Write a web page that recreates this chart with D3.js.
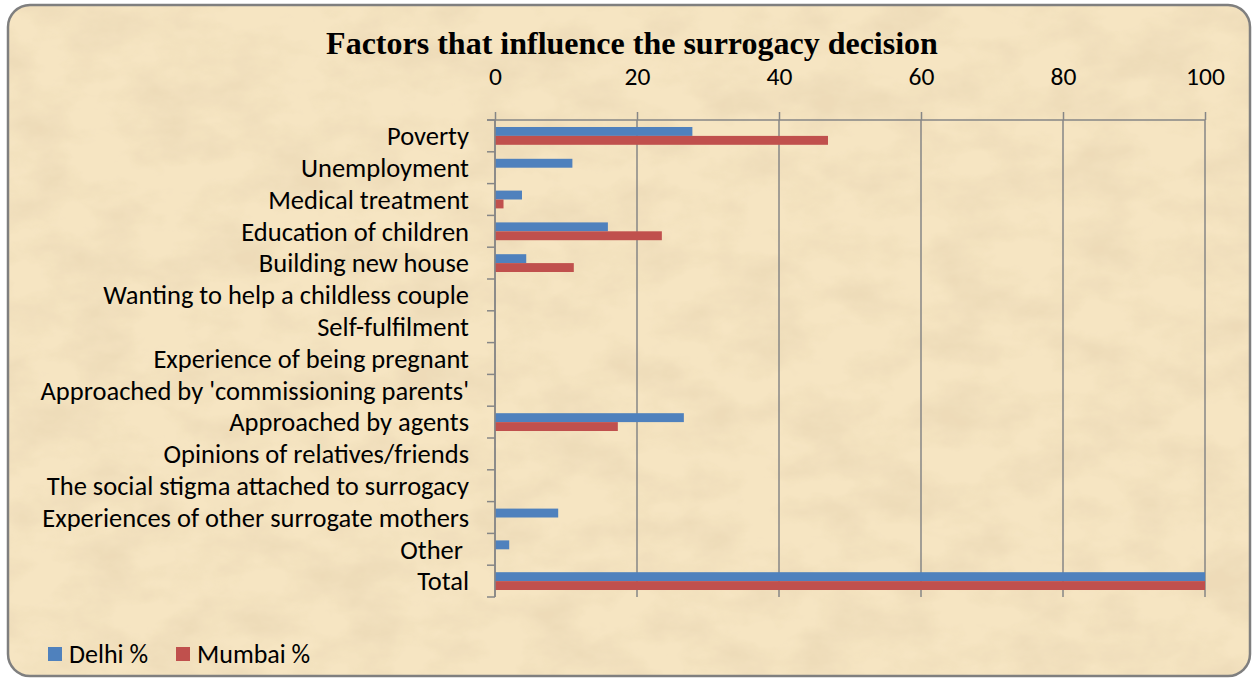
<!DOCTYPE html>
<html>
<head>
<meta charset="utf-8">
<script src="https://cdn.jsdelivr.net/npm/d3@7"></script>
<style>
  body { margin: 0; background: #ffffff; }
  text { font-family: Carlito, "Open Sans", "Noto Sans", sans-serif; }
</style>
</head>
<body>
<div id="chart"></div>
<script>
var width = 1253;
var height = 679;

var categories = ['Poverty', 'Unemployment', 'Medical treatment', 'Education of children',
  'Building new house', 'Wanting to help a childless couple', 'Self-fulfilment',
  'Experience of being pregnant', "Approached by 'commissioning parents'",
  'Approached by agents', 'Opinions of relatives/friends',
  'The social stigma attached to surrogacy', 'Experiences of other surrogate mothers',
  'Other ', 'Total'];
var delhi = [27.8, 10.9, 3.8, 15.9, 4.4, 0, 0, 0, 0, 26.6, 0, 0, 8.9, 2.0, 100];
var mumbai = [46.9, 0, 1.2, 23.5, 11.1, 0, 0, 0, 0, 17.3, 0, 0, 0, 0, 100];
var seriesNames = ['Delhi %', 'Mumbai %'];
var xTicks = [0, 20, 40, 60, 80, 100];
var colors = ['#4f81bd', '#c0504d'];

var margin = {left: 495, right: 48, top: 120, bottom: 82};
var fontSize = '26.5px';

var svg = d3.select('#chart').append('svg')
  .attr('width', width)
  .attr('height', height);

// parchment texture
var defs = svg.append('defs');
var filt = defs.append('filter').attr('id', 'paper')
  .attr('x', 0).attr('y', 0).attr('width', '100%').attr('height', '100%');
filt.append('feTurbulence')
  .attr('type', 'fractalNoise')
  .attr('baseFrequency', '0.015 0.025')
  .attr('numOctaves', 5)
  .attr('seed', 7)
  .attr('result', 'noise');
filt.append('feColorMatrix')
  .attr('in', 'noise')
  .attr('type', 'matrix')
  .attr('values', '0 0 0 0 0.85  0 0 0 0 0.71  0 0 0 0 0.48  0 0 0 2.2 -0.8')
  .attr('result', 'blot');
filt.append('feComposite').attr('in', 'blot').attr('in2', 'SourceGraphic').attr('operator', 'in').attr('result', 'b2');
filt.append('feMerge').selectAll('feMergeNode')
  .data(['SourceGraphic', 'b2'])
  .enter().append('feMergeNode').attr('in', function(d) { return d; });

svg.append('rect')
  .attr('x', 8).attr('y', 5).attr('width', 1242).attr('height', 671)
  .attr('rx', 22).attr('ry', 22)
  .style('fill', '#f6e5c2')
  .attr('filter', 'url(#paper)');

svg.append('rect')
  .attr('x', 8).attr('y', 5).attr('width', 1242).attr('height', 671)
  .attr('rx', 22).attr('ry', 22)
  .style('fill', 'none')
  .style('stroke', '#7f7f7f')
  .style('stroke-width', 2.5);

var x = d3.scaleLinear()
  .domain([0, 100])
  .range([margin.left, width - margin.right]);

var y = d3.scaleBand()
  .domain(categories)
  .range([margin.top, height - margin.bottom])
  .paddingInner(0.44)
  .paddingOuter(0.22);

var ySub = d3.scaleBand()
  .domain(seriesNames)
  .range([0, y.bandwidth()]);

// top axis
var xAxis = svg.append('g')
  .attr('transform', 'translate(0,' + margin.top + ')')
  .call(d3.axisTop(x).tickValues(xTicks).tickSize(8).tickPadding(27).tickFormat(d3.format('d')));
xAxis.select('.domain').remove();
xAxis.selectAll('line').style('stroke', '#868686').style('stroke-width', 1.5);
xAxis.selectAll('text').style('font-size', '25.5px').style('fill', '#000');

// vertical gridlines
svg.append('g')
  .selectAll('line')
  .data(xTicks)
  .enter().append('line')
  .attr('x1', function(d) { return x(d); })
  .attr('x2', function(d) { return x(d); })
  .attr('y1', margin.top)
  .attr('y2', height - margin.bottom)
  .style('stroke', '#868686')
  .style('stroke-width', 1.5);

svg.append('line')
  .attr('x1', x(0) - 8).attr('x2', x(100))
  .attr('y1', margin.top).attr('y2', margin.top)
  .style('stroke', '#868686')
  .style('stroke-width', 1.5);

// left axis tick marks between categories
var step = y.step();
var bounds = categories.map(function(c) { return y(c) - y.paddingInner() * step / 2; });
bounds.push(height - margin.bottom);
svg.append('g')
  .selectAll('line')
  .data(bounds)
  .enter().append('line')
  .attr('x1', x(0) - 8)
  .attr('x2', x(0))
  .attr('y1', function(d) { return d; })
  .attr('y2', function(d) { return d; })
  .style('stroke', '#868686')
  .style('stroke-width', 1.5);

svg.append('g')
  .selectAll('text')
  .data(categories)
  .enter().append('text')
  .attr('x', x(0) - 26)
  .attr('y', function(d) { return y(d) + y.bandwidth() / 2; })
  .attr('dy', '0.35em')
  .attr('text-anchor', 'end')
  .style('white-space', 'pre')
  .style('font-size', fontSize)
  .style('fill', '#000')
  .text(function(d) { return d; });

// bars
var rows = categories.map(function(c, i) {
  return {cat: c, vals: [delhi[i], mumbai[i]]};
});

var groups = svg.append('g').selectAll('.cat')
  .data(rows)
  .enter().append('g')
  .attr('class', 'cat')
  .attr('transform', function(d) { return 'translate(0,' + y(d.cat) + ')'; });

groups.selectAll('rect')
  .data(function(d) { return d.vals.map(function(v, j) { return {v: v, s: seriesNames[j], j: j}; }); })
  .enter().append('rect')
  .attr('x', x(0))
  .attr('y', function(d) { return ySub(d.s); })
  .attr('width', function(d) { return x(d.v) - x(0); })
  .attr('height', ySub.bandwidth())
  .style('fill', function(d) { return colors[d.j]; });

svg.append('line')
  .attr('x1', x(0)).attr('x2', x(0))
  .attr('y1', margin.top).attr('y2', height - margin.bottom)
  .style('stroke', '#868686')
  .style('stroke-width', 1.5);

// title
svg.append('text')
  .attr('x', 632)
  .attr('y', 54)
  .attr('text-anchor', 'middle')
  .style('font-family', '"Liberation Serif", "Times New Roman", serif')
  .style('font-weight', 'bold')
  .style('font-size', '32px')
  .style('fill', '#000')
  .text('Factors that influence the surrogacy decision');

// legend
var legendX = [48, 176];
var legend = svg.append('g').selectAll('g')
  .data(seriesNames)
  .enter().append('g')
  .attr('transform', function(d, i) { return 'translate(' + legendX[i] + ',647)'; });
legend.append('rect')
  .attr('width', 14).attr('height', 14)
  .style('fill', function(d, i) { return colors[i]; });
legend.append('text')
  .attr('x', 21).attr('y', 7).attr('dy', '0.35em')
  .style('font-size', '26px')
  .style('fill', '#000')
  .text(function(d) { return d; });
</script>
</body>
</html>
